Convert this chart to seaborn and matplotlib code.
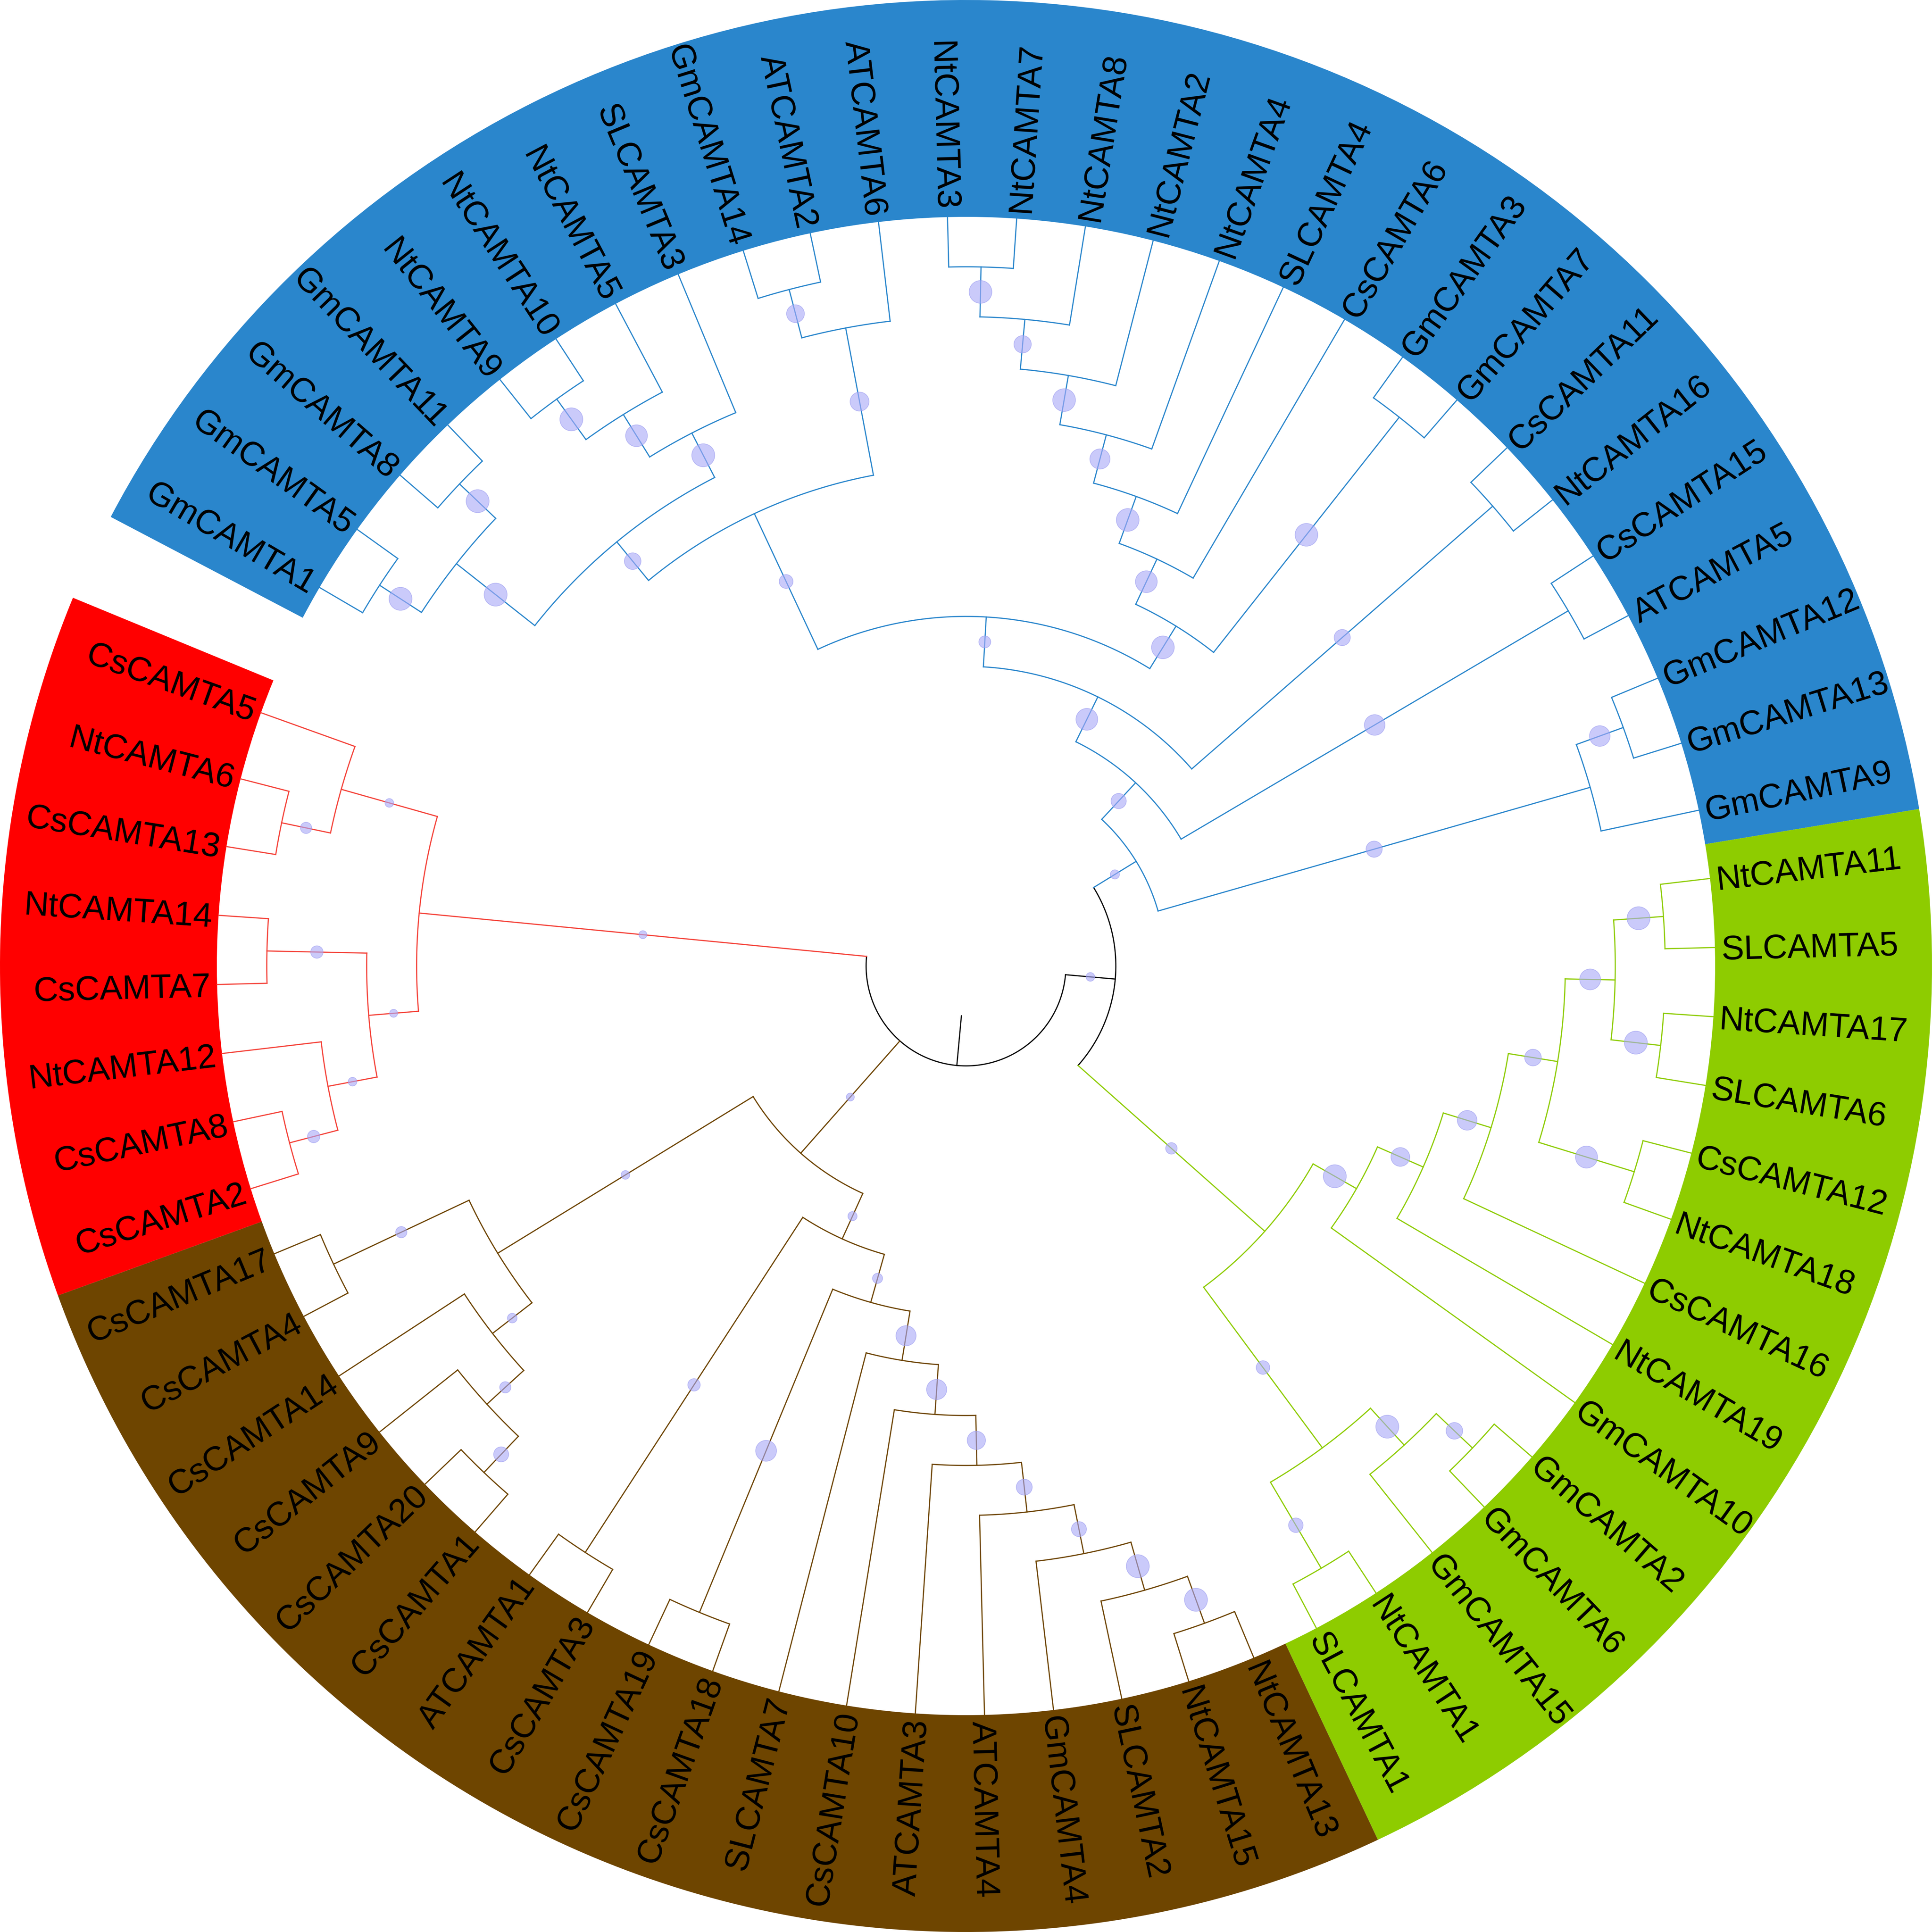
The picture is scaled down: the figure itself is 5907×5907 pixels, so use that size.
import numpy as np
import pandas as pd
import matplotlib
matplotlib.use("Agg")
import matplotlib.pyplot as plt
from matplotlib.patches import Wedge
import seaborn as sns

# ------------------------------------------------------------------ data
# Topology of each clade (Newick); internal labels = bootstrap support (%)
clade_blue = ("((((((((GmCAMTA1,GmCAMTA5)98,(GmCAMTA8,GmCAMTA11)98)98,"
              "(((NtCAMTA9,NtCAMTA10)98,NtCAMTA5)93,SLCAMTA3)98)71,"
              "((GmCAMTA14,ATCAMTA2)76,ATCAMTA6)81)59,"
              "(((((((NtCAMTA3,NtCAMTA7)97,NtCAMTA8)74,NtCAMTA2)97,NtCAMTA4)86,"
              "SLCAMTA4)97,CsCAMTA6)93,(GmCAMTA3,GmCAMTA7)97)97)51,"
              "(CsCAMTA11,NtCAMTA16)69)93,(CsCAMTA15,ATCAMTA5)88)65,"
              "((GmCAMTA12,GmCAMTA13)88,GmCAMTA9)69)39")
clade_green = ("(((((((NtCAMTA11,SLCAMTA5)98,(NtCAMTA17,SLCAMTA6)98)89,"
               "(CsCAMTA12,NtCAMTA18)94)71,CsCAMTA16)84,NtCAMTA19)80,GmCAMTA10)98,"
               "(((GmCAMTA2,GmCAMTA6)71,GmCAMTA15)98,(NtCAMTA1,SLCAMTA1)62)58)49")
clade_brown = ("((((((((((NtCAMTA13,NtCAMTA15)98,SLCAMTA2)98,GmCAMTA4)64,ATCAMTA4)68,"
               "ATCAMTA3)78,CsCAMTA10)86,SLCAMTA7)86,(CsCAMTA18,CsCAMTA19)89)43,"
               "(CsCAMTA3,ATCAMTA1)53)39,((((CsCAMTA1,CsCAMTA20)64,CsCAMTA9)48,"
               "CsCAMTA14)41,(CsCAMTA4,CsCAMTA17)48)37)34")
clade_red = ("((((CsCAMTA2,CsCAMTA8)53,NtCAMTA12)37,(CsCAMTA7,NtCAMTA14)53)34,"
             "((CsCAMTA13,NtCAMTA6)48,CsCAMTA5)37)34")
support_blue_green = 37.0

clade_names = ["blue", "green", "brown", "red"]
band_colors = {"blue": "#2a86cc", "green": "#8ecc00", "brown": "#6e4500", "red": "#ff0000"}
line_colors = {"blue": "#2a86cc", "green": "#8ecc00", "brown": "#6e4500",
               "red": "#f4433a", "root": "#000000"}

expected_order = [
    "GmCAMTA1", "GmCAMTA5", "GmCAMTA8", "GmCAMTA11", "NtCAMTA9", "NtCAMTA10", "NtCAMTA5",
    "SLCAMTA3", "GmCAMTA14", "ATCAMTA2", "ATCAMTA6", "NtCAMTA3", "NtCAMTA7", "NtCAMTA8",
    "NtCAMTA2", "NtCAMTA4", "SLCAMTA4", "CsCAMTA6", "GmCAMTA3", "GmCAMTA7", "CsCAMTA11",
    "NtCAMTA16", "CsCAMTA15", "ATCAMTA5", "GmCAMTA12", "GmCAMTA13", "GmCAMTA9",
    "NtCAMTA11", "SLCAMTA5", "NtCAMTA17", "SLCAMTA6", "CsCAMTA12", "NtCAMTA18", "CsCAMTA16",
    "NtCAMTA19", "GmCAMTA10", "GmCAMTA2", "GmCAMTA6", "GmCAMTA15", "NtCAMTA1", "SLCAMTA1",
    "NtCAMTA13", "NtCAMTA15", "SLCAMTA2", "GmCAMTA4", "ATCAMTA4", "ATCAMTA3", "CsCAMTA10",
    "SLCAMTA7", "CsCAMTA18", "CsCAMTA19", "CsCAMTA3", "ATCAMTA1", "CsCAMTA1", "CsCAMTA20",
    "CsCAMTA9", "CsCAMTA14", "CsCAMTA4", "CsCAMTA17",
    "CsCAMTA2", "CsCAMTA8", "NtCAMTA12", "CsCAMTA7", "NtCAMTA14", "CsCAMTA13", "NtCAMTA6",
    "CsCAMTA5"]

# ------------------------------------------------------------------ layout constants
HALF = 784.0          # half width of canvas in drawing units
R_TIP = 608.0         # radius of leaf tips / inner edge of band
R_OUT = 784.0         # outer edge of band
R_LAB = 613.0         # label anchor radius
A0 = 149.65           # angle of first leaf (deg)
STEP = 360.0 / 68.0   # angular slot per leaf (one slot left empty)
LW = 0.85
DMAX_PT = 17.2        # bubble diameter (pt) for 100 % support
FONT_SIZE = 25

plt.rcParams["font.family"] = ["Liberation Sans", "DejaVu Sans"]


def parse_newick(s):
    pos = 0

    def label():
        nonlocal pos
        st = pos
        while pos < len(s) and s[pos] not in ",();":
            pos += 1
        return s[st:pos]

    def node():
        nonlocal pos
        if s[pos] == "(":
            pos += 1
            kids = [node()]
            while s[pos] == ",":
                pos += 1
                kids.append(node())
            assert s[pos] == ")"
            pos += 1
            lab = label()
            return {"name": None, "children": kids, "support": float(lab) if lab else None}
        return {"name": label(), "children": [], "support": None}

    t = node()
    assert pos == len(s), (pos, len(s))
    return t


def tag(n, c):
    n["clade"] = c
    for k in n["children"]:
        tag(k, c)


trees = {}
for name, nw in zip(clade_names, [clade_blue, clade_green, clade_brown, clade_red]):
    t = parse_newick(nw)
    tag(t, name)
    trees[name] = t

node_bg = {"name": None, "children": [trees["blue"], trees["green"]],
           "support": support_blue_green, "clade": "root"}
root = {"name": None, "children": [node_bg, trees["brown"], trees["red"]],
        "support": None, "clade": "root"}

leaves = []


def layout(n):
    if not n["children"]:
        n["angle"] = A0 - STEP * len(leaves)
        n["h"] = 0
        leaves.append(n)
    else:
        for k in n["children"]:
            layout(k)
        n["h"] = 1 + max(k["h"] for k in n["children"])
        n["angle"] = 0.5 * (n["children"][0]["angle"] + n["children"][-1]["angle"])


layout(root)
assert [l["name"] for l in leaves] == expected_order
n_levels = root["h"] + 2
unit = R_TIP / n_levels


def rad(n):
    return (n_levels - n["h"]) * unit


rows = []
bubbles = []
seg_id = [0]


def add_seg(xs, ys, clade):
    for x, y in zip(xs, ys):
        rows.append((x, y, seg_id[0], clade))
    seg_id[0] += 1


def walk(n):
    if not n["children"]:
        return
    r0 = rad(n)
    a1 = n["children"][0]["angle"]
    a2 = n["children"][-1]["angle"]
    th = np.radians(np.linspace(a1, a2, max(2, int(abs(a2 - a1) * 3) + 2)))
    add_seg(r0 * np.cos(th), r0 * np.sin(th), n["clade"])
    for k in n["children"]:
        t = np.radians(k["angle"])
        r1 = rad(k)
        add_seg([r0 * np.cos(t), r1 * np.cos(t)], [r0 * np.sin(t), r1 * np.sin(t)], k["clade"])
        if k["support"] is not None:
            rm = 0.5 * (r0 + r1)
            bubbles.append((rm * np.cos(t), rm * np.sin(t), k["support"]))
        walk(k)


# root stub
tr = np.radians(root["angle"])
add_seg([unit * np.cos(tr), rad(root) * np.cos(tr)],
        [unit * np.sin(tr), rad(root) * np.sin(tr)], "root")
walk(root)

seg_df = pd.DataFrame(rows, columns=["x", "y", "seg", "clade"])
bub_df = pd.DataFrame(bubbles, columns=["x", "y", "support"])

# ------------------------------------------------------------------ figure
fig = plt.figure(figsize=(5907 / 300, 5907 / 300), dpi=300, facecolor="white")
ax = fig.add_axes([0, 0, 1, 1])
ax.set_xlim(-HALF, HALF)
ax.set_ylim(-HALF, HALF)
ax.set_aspect("equal")
ax.axis("off")

# colour bands
for c in clade_names:
    angs = [l["angle"] for l in leaves if l["clade"] == c]
    w = Wedge((0, 0), R_OUT, min(angs) - STEP / 2, max(angs) + STEP / 2,
              width=R_OUT - R_TIP, facecolor=band_colors[c], edgecolor="none", zorder=0)
    ax.add_patch(w)

# branches
sns.lineplot(data=seg_df, x="x", y="y", units="seg", hue="clade", palette=line_colors,
             estimator=None, sort=False, linewidth=LW, legend=False, ax=ax, zorder=2)

# bootstrap bubbles
size_map = {v: (DMAX_PT * v / 100.0) ** 2 for v in bub_df["support"].unique()}
sns.scatterplot(data=bub_df, x="x", y="y", size="support", sizes=size_map,
                color="#aaaaf8", alpha=0.62, edgecolor="#9c9cf0", linewidth=0.5,
                legend=False, ax=ax, zorder=3)

# leaf labels
for l in leaves:
    a = l["angle"]
    t = a % 360.0
    if 90.0 < t < 270.0:
        rot = t - 180.0
        ha = "right"
    else:
        rot = t if t <= 90.0 else t - 360.0
        ha = "left"
    ra = np.radians(a)
    ax.text(R_LAB * np.cos(ra), R_LAB * np.sin(ra), l["name"], rotation=rot,
            rotation_mode="anchor", ha=ha, va="center_baseline", fontsize=FONT_SIZE,
            color="black", zorder=4)

ax.set_xlim(-HALF, HALF)
ax.set_ylim(-HALF, HALF)
ax.set_xlabel("")
ax.set_ylabel("")
fig.savefig("out.png", dpi=300, facecolor="white")
